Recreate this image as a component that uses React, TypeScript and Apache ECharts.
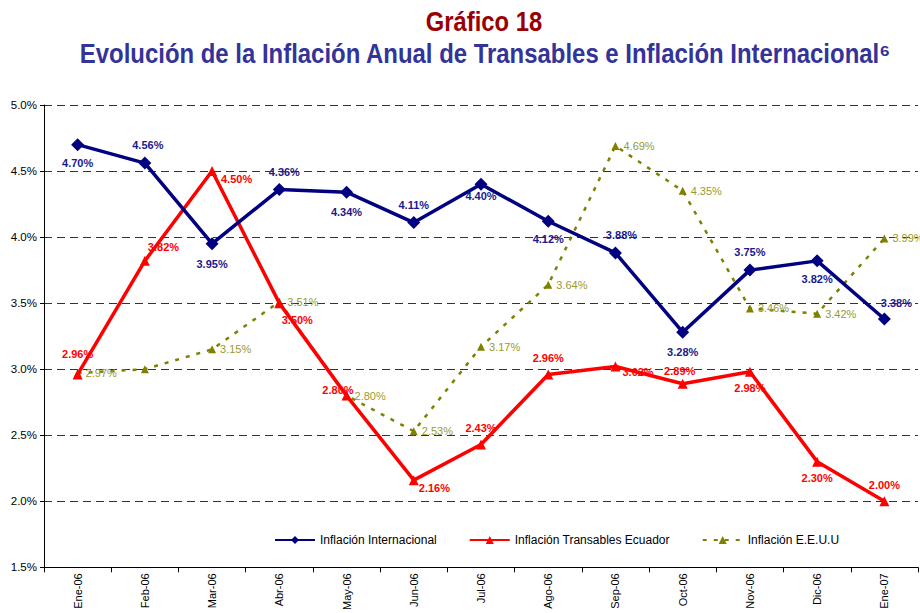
import React, { useEffect, useRef } from "react";
import * as echarts from "echarts";

const categories = ["Ene-06", "Feb-06", "Mar-06", "Abr-06", "May-06", "Jun-06", "Jul-06", "Ago-06", "Sep-06", "Oct-06", "Nov-06", "Dic-06", "Ene-07"];
const inflacionInternacional = [4.70, 4.56, 3.95, 4.36, 4.34, 4.11, 4.40, 4.12, 3.88, 3.28, 3.75, 3.82, 3.38];
const inflacionTransables = [2.96, 3.82, 4.50, 3.50, 2.80, 2.16, 2.43, 2.96, 3.02, 2.89, 2.98, 2.30, 2.00];
const inflacionEEUU = [2.97, 3.00, 3.15, 3.51, 2.80, 2.53, 3.17, 3.64, 4.69, 4.35, 3.46, 3.42, 3.99];
const eeuuLabelShown = [true, false, true, true, true, true, true, true, true, true, true, true, true];

const titleText = "Gráfico 18";
const subtitleText = "Evolución de la Inflación Anual de Transables e Inflación Internacional⁶";

// label placement (styling only)
const intlPos = ["bottom", "top", "bottom", "top", "bottom", "top", "bottom", "bottom", "top", "bottom", "top", "bottom", "top"];
const intlOff = [[0, 0], [3, 0], [0, 2], [5, 0], [0, 2], [0, 0], [0, -6], [0, 0], [6, 0], [0, 2], [0, 0], [0, 0], [12, 2]];
const transPos = ["top", "right", "right", "bottom", "left", "right", "top", "top", "right", "top", "bottom", "bottom", "top"];
const transOff = [[0, -4], [-8, -14], [-2, 8], [18, 0], [18, -6], [-6, 8], [0, 0], [0, 0], [-4, 5], [-3, 4], [0, 0], [0, 0], [0, 0]];

const FONT = "'Liberation Sans', Arial, sans-serif";

export default function App() {
  const ref = useRef<HTMLDivElement>(null);
  useEffect(() => {
    if (!ref.current) return;
    const chart = echarts.init(ref.current, null, { renderer: "svg" });
    const intlData = inflacionInternacional.map((v, i) => ({
      value: v,
      label: { position: intlPos[i], offset: intlOff[i] },
    }));
    const transData = inflacionTransables.map((v, i) => ({
      value: v,
      label: { position: transPos[i], offset: transOff[i] },
    }));
    const eeuuData = inflacionEEUU.map((v, i) => ({
      value: v,
      label: { show: eeuuLabelShown[i] },
    }));
    chart.setOption({
      animation: false,
      backgroundColor: "#ffffff",
      textStyle: { fontFamily: FONT },
      graphic: [
        {
          type: "text",
          x: 484,
          y: 21,
          scaleX: 0.85,
          style: {
            text: titleText,
            fill: "#990000",
            font: "bold 28px 'Liberation Sans', Arial, sans-serif",
            textAlign: "center",
            textVerticalAlign: "middle",
          },
        },
        {
          type: "text",
          x: 485,
          y: 53,
          scaleX: 0.855,
          style: {
            text: subtitleText,
            fill: "#333399",
            font: "bold 28px 'Liberation Sans', Arial, sans-serif",
            textAlign: "center",
            textVerticalAlign: "middle",
          },
        },
      ],
      legend: {
        left: 269,
        top: 529,
        itemGap: 32,
        itemWidth: 40,
        itemHeight: 10,
        textStyle: { color: "#000", fontSize: 12, fontFamily: FONT },
        data: ["Inflación Internacional", "Inflación Transables Ecuador", "Inflación E.E.U.U"],
      },
      grid: { left: 44, right: 2, top: 105, bottom: 44, containLabel: false },
      xAxis: {
        type: "category",
        data: categories,
        boundaryGap: true,
        axisLine: { lineStyle: { color: "#000", width: 1 } },
        axisTick: { show: true, length: 5, lineStyle: { color: "#000" } },
        axisLabel: { rotate: 90, color: "#000", fontSize: 11, fontFamily: FONT, margin: 6 },
      },
      yAxis: {
        type: "value",
        min: 1.5,
        max: 5.0,
        interval: 0.5,
        axisLine: { show: true, lineStyle: { color: "#000", width: 1 } },
        axisTick: { show: true, length: 4, lineStyle: { color: "#000" } },
        axisLabel: { color: "#000", fontSize: 11.5, fontFamily: FONT, margin: 7, formatter: (v: number) => v.toFixed(1) + "%" },
        splitLine: { show: true, lineStyle: { color: "#333", type: [8, 5], width: 1 } },
      },
      series: [
        {
          name: "Inflación E.E.U.U",
          type: "line",
          data: eeuuData,
          z: 2,
          lineStyle: { color: "#808000", width: 2.5, type: [4, 7] },
          itemStyle: { color: "#808000" },
          symbol: "triangle",
          symbolSize: 8,
          label: {
            show: true,
            position: "right",
            distance: 4,
            color: "#999933",
            fontSize: 11,
            fontFamily: FONT,
            formatter: (p: any) => p.value.toFixed(2) + "%",
          },
        },
        {
          name: "Inflación Transables Ecuador",
          type: "line",
          data: transData,
          z: 3,
          lineStyle: { color: "#FF0000", width: 3.5 },
          itemStyle: { color: "#FF0000" },
          symbol: "triangle",
          symbolSize: 10,
          label: {
            show: true,
            color: "#FF0000",
            fontSize: 11,
            fontWeight: "bold",
            fontFamily: FONT,
            distance: 6,
            formatter: (p: any) => p.value.toFixed(2) + "%",
          },
        },
        {
          name: "Inflación Internacional",
          type: "line",
          data: intlData,
          z: 4,
          lineStyle: { color: "#000080", width: 3.5 },
          itemStyle: { color: "#000080" },
          symbol: "diamond",
          symbolSize: 13,
          label: {
            show: true,
            color: "#1a1a8c",
            fontSize: 11,
            fontWeight: "bold",
            fontFamily: FONT,
            distance: 6,
            formatter: (p: any) => p.value.toFixed(2) + "%",
          },
        },
      ],
    });
    return () => chart.dispose();
  }, []);
  return <div ref={ref} style={{ width: 920, height: 613, position: "absolute", left: 0, top: 0 }} />;
}
